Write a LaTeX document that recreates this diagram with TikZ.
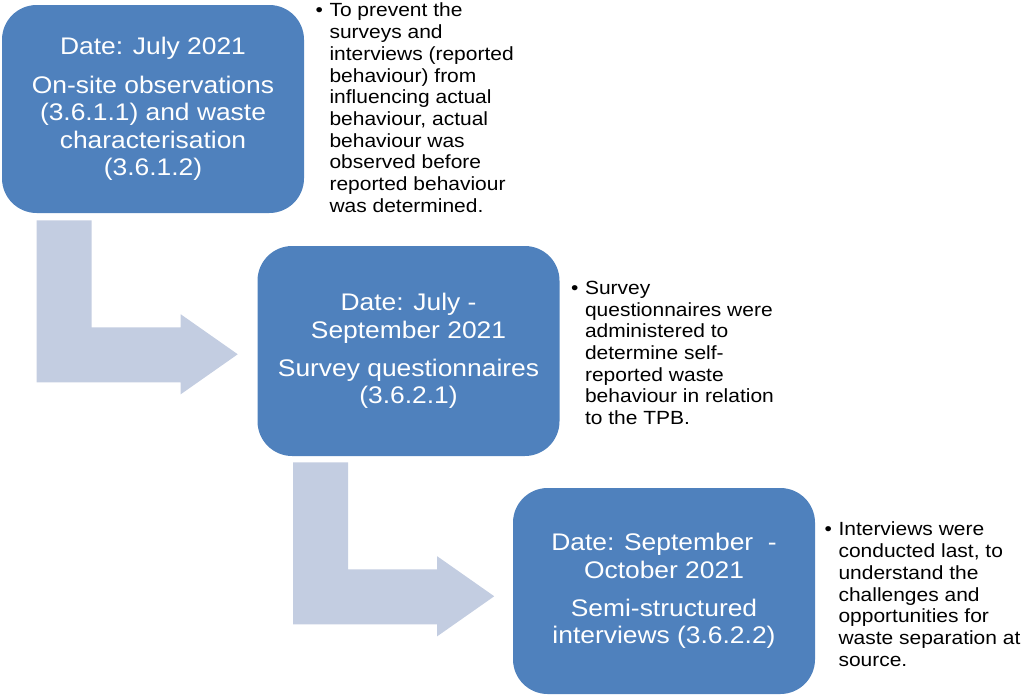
\documentclass[tikz,border=0pt]{standalone}
\usepackage{fontspec}
\setmainfont[FakeStretch=1.1]{Liberation Sans}
\usepackage{xcolor}
\usetikzlibrary{positioning,calc}
\definecolor{stageblue}{HTML}{4F81BD}
\definecolor{flowgrey}{RGB}{195,205,225}
\tikzset{
  stage/.style = {rectangle, rounded corners=26pt, fill=stageblue, text=white,
                  minimum width=226.5pt, minimum height=156pt, align=center,
                  inner sep=0pt, font=\fontsize{18}{20.6}\selectfont},
  note/.style  = {anchor=north west, align=left, inner sep=0pt,
                  font=\fontsize{14.3}{16.3}\selectfont},
  bentarrow/.pic = {\fill[flowgrey] (0,0) -- (55,0) -- (55,107) -- (144,107) -- (144,94)
                    -- (201,134) -- (144,174) -- (144,162) -- (0,162) -- cycle;},
}
\newcommand{\bul}{\makebox[0pt][r]{\textbullet\hspace{5pt}}}

\begin{document}
\begin{tikzpicture}[x=0.75pt,y=-0.75pt]
  \useasboundingbox (0,0) rectangle (1024,696);

  \node[stage] (obs) at (153,109)
    {Date: July 2021\\[8pt]On-site observations\\(3.6.1.1) and waste\\characterisation\\(3.6.1.2)};
  \node[stage,minimum height=157.5pt] (survey) at (408.5,351)
    {Date: July -\\September 2021\\[8pt]Survey questionnaires\\(3.6.2.1)};
  \node[stage,minimum height=154.5pt] (interv) at (664,591)
    {Date: September\ \ -\\October 2021\\[8pt]Semi-structured\\interviews (3.6.2.2)};

  \pic at ($(obs.south west)+(35,7)$) {bentarrow};
  \pic at ($(survey.south west)+(36,6)$) {bentarrow};

  \node[note] (obsnote) at ($(obs.north east)+(25,-2)$)
    {\bul To prevent the\\surveys and\\interviews (reported\\behaviour) from\\influencing actual\\behaviour, actual\\behaviour was\\observed before\\reported behaviour\\was determined.};
  \node[note] (surveynote) at ($(survey.north east)+(25,35)$)
    {\bul Survey\\questionnaires were\\administered to\\determine self-\\reported waste\\behaviour in relation\\to the TPB.};
  \node[note] (intervnote) at ($(interv.north east)+(23,34)$)
    {\bul Interviews were\\conducted last, to\\understand the\\challenges and\\opportunities for\\waste separation at\\source.};
\end{tikzpicture}
\end{document}
